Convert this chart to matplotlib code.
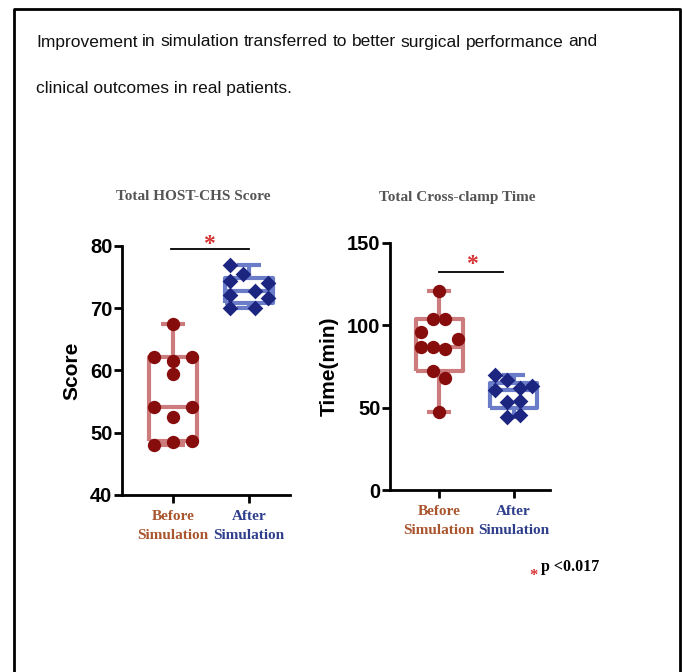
#!/usr/bin/env python3
"""Box-and-dot plots: HOST-CHS score and cross-clamp time before/after simulation."""

import numpy as np
import matplotlib

matplotlib.use("Agg")
import matplotlib.pyplot as plt
from matplotlib.lines import Line2D

# ---- data ----
groups = ["Before\nSimulation", "After\nSimulation"]
host_before = [61.6, 62.1, 62.1, 59.4, 67.5, 52.5, 54.1, 54.1, 48.5, 48.1, 48.6]
host_after = [76.9, 75.5, 74.3, 74.1, 72.1, 72.8, 71.6, 70.1, 70.1]
clamp_before = [120.6, 103.8, 103.8, 95.7, 91.6, 86.8, 86.8, 85.5, 72.2, 67.9, 47.6]
clamp_after = [69.8, 66.8, 60.7, 61.8, 63.3, 53.6, 54.0, 44.5, 45.5]

host_ticks = [40, 50, 60, 70, 80]
clamp_ticks = [0, 50, 100, 150]

# beeswarm column (in half-dot steps) used by the original plot, per point
host_before_col = [0, -3, 3, 0, 0, 0, -3, 3, 0, -3, 3]
host_after_col = [-3, -1, -3, 3, -3, 1, 3, -3, 1]
clamp_before_col = [0, -1, 1, -3, 3, -3, -1, 1, -1, 1, 0]
clamp_after_col = [-3, -1, -3, 1, 3, -1, 1, -1, 1]

RED_DOT = "#870d0d"
RED_BOX = "#cc7c7c"
BLUE_DOT = "#1c2580"
BLUE_BOX = "#6b7cc8"
RED_LABEL = "#a9552e"
BLUE_LABEL = "#2f3f8c"
STAR = "#d63030"
STEP = 0.083

SANS = ["Liberation Sans", "DejaVu Sans"]
SERIF = ["Liberation Serif", "DejaVu Serif"]


def box_stats(values):
    # GraphPad-style quartiles, whiskers to min/max
    v = np.asarray(values)
    q1, med, q3 = np.percentile(v, [25, 50, 75], method="weibull")
    return dict(med=med, q1=q1, q3=q3, whislo=v.min(), whishi=v.max(), fliers=[])


def draw_panel(ax, before, after, before_col, after_col, ticks, ylabel):
    for pos, vals, color in ((0, before, RED_BOX), (1, after, BLUE_BOX)):
        props = dict(color=color, linewidth=3.0, solid_capstyle="butt")
        ax.bxp([box_stats(vals)], positions=[pos], widths=0.63, showfliers=False,
               boxprops=props, whiskerprops=props, capprops=props, medianprops=props,
               zorder=2)
    ax.scatter(0 + STEP * np.array(before_col), before, s=92, marker="o",
               color=RED_DOT, linewidths=0, zorder=3, clip_on=False)
    ax.scatter(1 + STEP * np.array(after_col), after, s=64, marker="D",
               color=BLUE_DOT, linewidths=0, zorder=3, clip_on=False)

    ax.set_ylim(ticks[0], ticks[-1])
    ax.set_yticks(ticks)
    ax.set_xticks([0, 1])
    ax.set_xticklabels(groups)
    for lab, col in zip(ax.get_xticklabels(), (RED_LABEL, BLUE_LABEL)):
        lab.set_color(col)
        lab.set_family(SERIF)
        lab.set_fontweight("bold")
        lab.set_fontsize(11)
        lab.set_linespacing(1.55)
    for lab in ax.get_yticklabels():
        lab.set_family(SANS)
        lab.set_fontweight("bold")
        lab.set_fontsize(14.5)

    for side in ("top", "right"):
        ax.spines[side].set_visible(False)
    for side in ("left", "bottom"):
        ax.spines[side].set_linewidth(2.0)
    ax.tick_params(axis="both", direction="out", length=6, width=2.0, color="black")
    ax.tick_params(axis="y", pad=1.0)
    ax.tick_params(axis="x", pad=5)
    ax.set_ylabel(ylabel, family=SANS, fontweight="bold", fontsize=15, labelpad=6)


fig = plt.figure(figsize=(6.82, 6.72), dpi=100)
W, H = 682, 672

ax1 = fig.add_axes([122 / W, 1 - 495 / H, 168 / W, 249 / H])
ax2 = fig.add_axes([390 / W, 1 - 490 / H, 160 / W, 247 / H])

draw_panel(ax1, host_before, host_after, host_before_col, host_after_col,
           host_ticks, "Score")
ax1.set_xlim(-0.67, 1.54)
draw_panel(ax2, clamp_before, clamp_after, clamp_before_col, clamp_after_col,
           clamp_ticks, "Time(min)")
ax2.set_xlim(-0.66, 1.49)

title_font = dict(family=SERIF, fontweight="bold", fontsize=11, color="#555555",
                  ha="center", va="center")
fig.text(193 / W, 1 - 197 / H, "Total HOST-CHS Score", **title_font)
fig.text(457 / W, 1 - 197 / H, "Total Cross-clamp Time", **title_font)

# significance bars
ax1.plot([-0.03, 1.0], [79.5, 79.5], color="black", lw=1.3, clip_on=False)
ax1.text(0.48, 79.3, "*", color=STAR, fontsize=17, fontweight="bold",
         family=SERIF, ha="center", va="baseline", clip_on=False)
ax2.plot([0.0, 0.86], [132.4, 132.4], color="black", lw=1.3, clip_on=False)
ax2.text(0.44, 133.9, "*", color=STAR, fontsize=17, fontweight="bold",
         family=SERIF, ha="center", va="baseline", clip_on=False)

# p-value note
fig.text(533 / W, 1 - 576 / H, "*", color=STAR, fontsize=12, fontweight="bold",
         family=SERIF, ha="center", va="center")
fig.text(541 / W, 1 - 567 / H, "p <0.017", color="black", fontsize=11.5,
         fontweight="bold", family=SERIF, ha="left", va="center")

# header text, first line justified
header_font = dict(family=SANS, fontsize=12.5, color="#111111", va="center")
line1 = "Improvement in simulation transferred to better surgical performance and"
words = line1.split()
arts = [fig.text(36 / W, 1 - 42 / H, w, **header_font) for w in words]
fig.canvas.draw()
renderer = fig.canvas.get_renderer()
widths = [a.get_window_extent(renderer).width for a in arts]
gap = max(((597 - 36) - sum(widths)) / (len(words) - 1), 3.0)
x = 36.0
for a, w in zip(arts, widths):
    a.set_x(x / W)
    x += w + gap
fig.text(36 / W, 1 - 88 / H, "clinical outcomes in real patients.", **header_font)

# page frame (open at the bottom)
fig.add_artist(Line2D([14 / W, 14 / W, 680 / W, 680 / W], [0, 1 - 9 / H, 1 - 9 / H, 0],
                      transform=fig.transFigure, color="black", lw=2.0))

fig.savefig("out.png", dpi=100, facecolor="white")
